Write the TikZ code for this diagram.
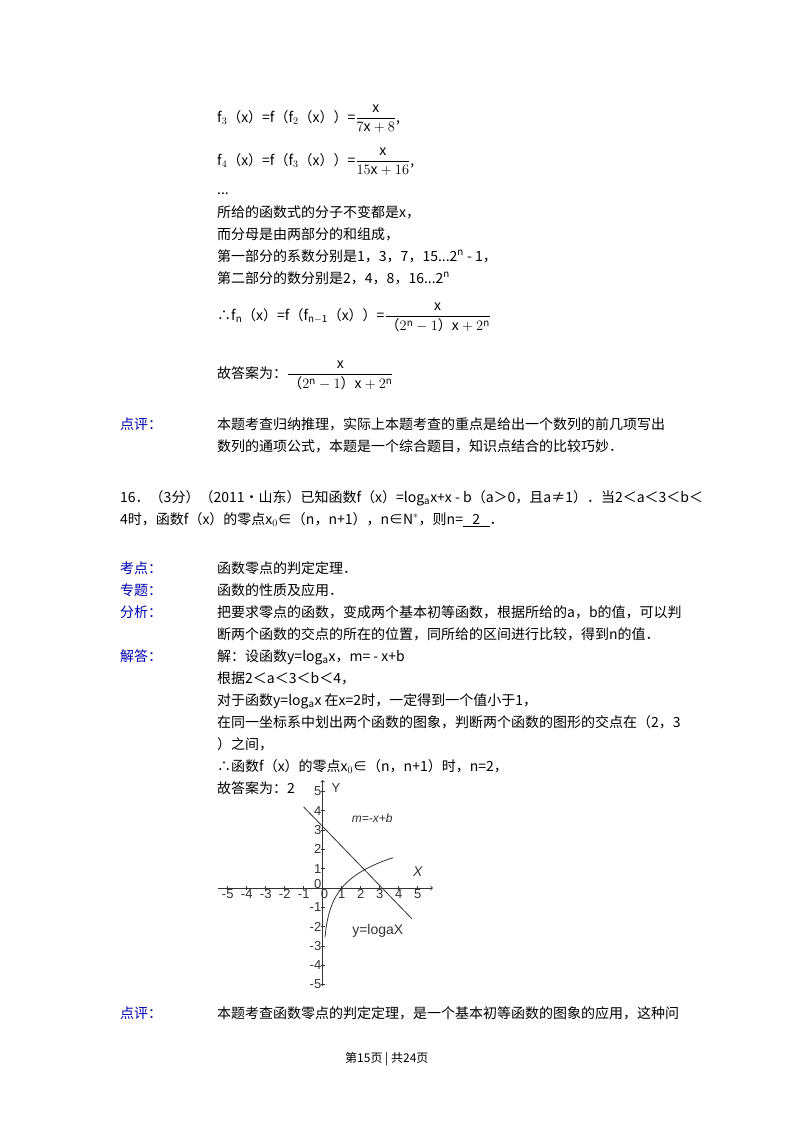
\documentclass[tikz,border=0pt]{standalone}
\usepackage{amsmath}
\usepackage{fontspec}
\setmainfont{Noto Sans CJK SC}
\setsansfont{Liberation Sans}
\begin{document}
\begin{tikzpicture}[x=1pt,y=-1pt,
  t/.style={anchor=base west,inner sep=0pt,font=\fontsize{14}{16}\selectfont},
  lab/.style={t,text=blue!70!black},
  g/.style={font=\fontsize{13}{14}\selectfont\sffamily,inner sep=1pt}]
\useasboundingbox (0,0) rectangle (800,1132);
\node[t] (l1) at (217,122) {f$_3$（x）=f（f$_2$（x））=$\dfrac{\mathrm{x}}{7\mathrm{x}+8}$,};
\node[t] (l2) at (217,165) {f$_4$（x）=f（f$_3$（x））=$\dfrac{\mathrm{x}}{15\mathrm{x}+16}$,};
\node[t] (l3) at (217,194) {...};
\node[t] (l4) at (217,217) {所给的函数式的分子不变都是x，};
\node[t] (l5) at (217,239) {而分母是由两部分的和组成，};
\node[t] (l6) at (217,261) {第一部分的系数分别是1，3，7，15...2$^{\mathrm n}$ - 1，};
\node[t] (l7) at (217,283) {第二部分的数分别是2，4，8，16...2$^{\mathrm n}$};
\node[t] (l8) at (217,320) {∴f$_{\mathrm n}$（x）=f（f$_{\mathrm{n-1}}$（x））=$\dfrac{\mathrm{x}}{\text{（}2^{\mathrm n}-1\text{）}\mathrm{x}+2^{\mathrm n}}$};
\node[t] (l9) at (217,378) {故答案为：$\dfrac{\mathrm{x}}{\text{（}2^{\mathrm n}-1\text{）}\mathrm{x}+2^{\mathrm n}}$};
\node[lab] (p1) at (120,429) {点评：};
\node[t] (p1a) at (217,429) {本题考查归纳推理，实际上本题考查的重点是给出一个数列的前几项写出};
\node[t] (p1b) at (217,451) {数列的通项公式，本题是一个综合题目，知识点结合的比较巧妙．};
\node[t] (q1) at (120,502) {16．（3分）（2011•山东）已知函数f（x）=log$_{\mathrm a}$x+x - b（a＞0，且a≠1）．当2＜a＜3＜b＜};
\node[t] (q2) at (120,524) {4时，函数f（x）的零点x$_0$∈（n，n+1），n∈N$^*$，则n=\underline{\ \ \ 2\ \ \ }．};
\node[lab] (k1) at (120,573) {考点：};
\node[t] (k1a) at (217,573) {函数零点的判定定理．};
\node[lab] (k2) at (120,595) {专题：};
\node[t] (k2a) at (217,595) {函数的性质及应用．};
\node[lab] (k3) at (120,617) {分析：};
\node[t] (k3a) at (217,617) {把要求零点的函数，变成两个基本初等函数，根据所给的a，b的值，可以判};
\node[t] (k3b) at (217,639) {断两个函数的交点的所在的位置，同所给的区间进行比较，得到n的值．};
\node[lab] (k4) at (120,661) {解答：};
\node[t] (s1) at (217,661) {解：设函数y=log$_{\mathrm a}$x，m= - x+b};
\node[t] (s2) at (217,683) {根据2＜a＜3＜b＜4，};
\node[t] (s3) at (217,705) {对于函数y=log$_{\mathrm a}$x 在x=2时，一定得到一个值小于1，};
\node[t] (s4) at (217,727) {在同一坐标系中划出两个函数的图象，判断两个函数的图形的交点在（2，3};
\node[t] (s5) at (217,749) {）之间，};
\node[t] (s6) at (217,771) {∴函数f（x）的零点x$_0$∈（n，n+1）时，n=2，};
\node[t] (s7) at (217,793) {故答案为：2};
% graph
\begin{scope}[shift={(322.7,888)},x=19pt,y=19.3pt,line width=0.8pt,black!80]
\draw[->] (-5.5,0) -- (5.8,0);
\draw[->] (0,-5.1) -- (0,5.6);
\foreach \i in {-5,...,5}{\draw (\i,-0.1) -- (\i,0.1); \draw (-0.1,\i) -- (0.1,\i);}
\foreach \i in {-5,-4,-3,-2,-1,1,2,3,4,5}{
  \node[g,below] at (\i,0) {\i};
  \node[g,left] at (0,\i) {\i};}
\node[g,left] at (0,0.2) {0};
\node[g,below] at (0.1,0) {0};
\node[g] at (0.7,5.2) {Y};
\node[g,font=\fontsize{14}{15}\selectfont\sffamily\itshape] at (5,0.85) {X};
\node[g,font=\fontsize{12}{13}\selectfont\sffamily\itshape] at (2.6,3.6) {m=-x+b};
\node[g,font=\fontsize{14}{15}\selectfont\sffamily] at (2.9,-2.2) {y=logaX};
\draw (-1,4.2) -- (4.7,-1.6);
\draw plot[domain=0.12:3.7,samples=60,smooth] (\x,{ln(\x)/ln(2.3)});
\end{scope}
\node[lab] (p2) at (120,1018) {点评：};
\node[t] (p2a) at (217,1018) {本题考查函数零点的判定定理，是一个基本初等函数的图象的应用，这种问};
\node[t,font=\fontsize{12}{14}\selectfont] (ft) at (345,1062) {第15页 | 共24页};
\end{tikzpicture}
\end{document}
